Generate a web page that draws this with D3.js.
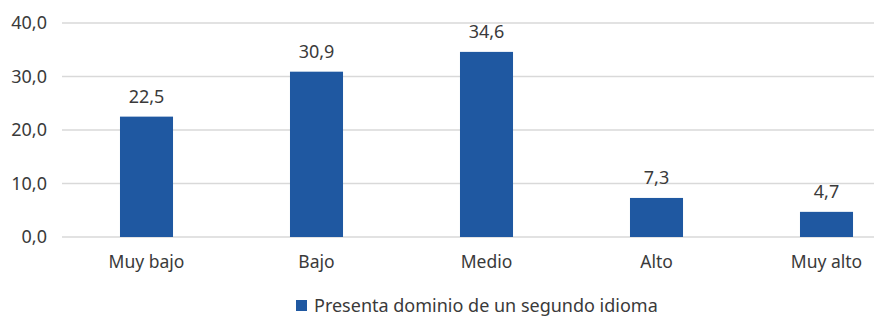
<!DOCTYPE html>
<html>
<head>
<meta charset="utf-8">
<script src="https://cdn.jsdelivr.net/npm/d3@7"></script>
<style>
  body { margin: 0; background: #fff; }
  svg text { font-family: "Noto Sans", "Open Sans", sans-serif; fill: #3a3a3a; }
</style>
</head>
<body>
<script>
// chart data
var categories = ["Muy bajo", "Bajo", "Medio", "Alto", "Muy alto"];
var values = [22.5, 30.9, 34.6, 7.3, 4.7];
var yTicks = [0, 10, 20, 30, 40];
var seriesName = "Presenta dominio de un segundo idioma";

var width = 874, height = 318;
var barColor = "#1f58a1";

var svg = d3.select("body").append("svg")
    .attr("width", width)
    .attr("height", height);

// scales
var x = d3.scaleBand()
    .domain(categories)
    .range([61.5, 911.5])
    .paddingInner(0.688)
    .paddingOuter(0.344);

var y = d3.scaleLinear()
    .domain([0, 40])
    .range([237, 23]);

var fmt = function(v){ return d3.format(".1f")(v).replace(".", ","); };

// gridlines
svg.append("g").selectAll("line")
    .data(yTicks)
    .enter().append("line")
    .attr("x1", 62)
    .attr("x2", width)
    .attr("y1", function(d){ return y(d); })
    .attr("y2", function(d){ return y(d); })
    .attr("stroke", "#d9d9d9")
    .attr("stroke-width", 1.3);

// y axis labels
var yAxis = d3.axisLeft(y).tickValues(yTicks).tickFormat(fmt).tickSize(0).tickPadding(14);
var yg = svg.append("g").attr("transform", "translate(61,0)").call(yAxis);
yg.select(".domain").remove();
yg.selectAll("text").style("font-size", "18px").attr("fill", "#3a3a3a");

// bars
svg.append("g").selectAll("rect")
    .data(values)
    .enter().append("rect")
    .attr("x", function(d, i){ return x(categories[i]); })
    .attr("width", x.bandwidth())
    .attr("y", function(d){ return y(d); })
    .attr("height", function(d){ return y(0) - y(d); })
    .attr("fill", barColor);

// value labels
svg.append("g").selectAll("text")
    .data(values)
    .enter().append("text")
    .attr("x", function(d, i){ return x(categories[i]) + x.bandwidth() / 2; })
    .attr("y", function(d){ return y(d) - 14; })
    .attr("text-anchor", "middle")
    .style("font-size", "18px")
    .text(fmt);

// category labels
var xAxis = d3.axisBottom(x).tickSize(0).tickPadding(19);
var xg = svg.append("g").attr("transform", "translate(0,237)").call(xAxis);
xg.select(".domain").remove();
xg.selectAll("text").style("font-size", "17.5px").attr("fill", "#3a3a3a");

// legend
var legend = svg.append("g").attr("transform", "translate(296,300)");
legend.append("rect")
    .attr("width", 11)
    .attr("height", 11)
    .attr("fill", barColor);
legend.append("text")
    .attr("x", 18)
    .attr("y", 11.5)
    .style("font-size", "18px")
    .text(seriesName);
</script>
</body>
</html>
